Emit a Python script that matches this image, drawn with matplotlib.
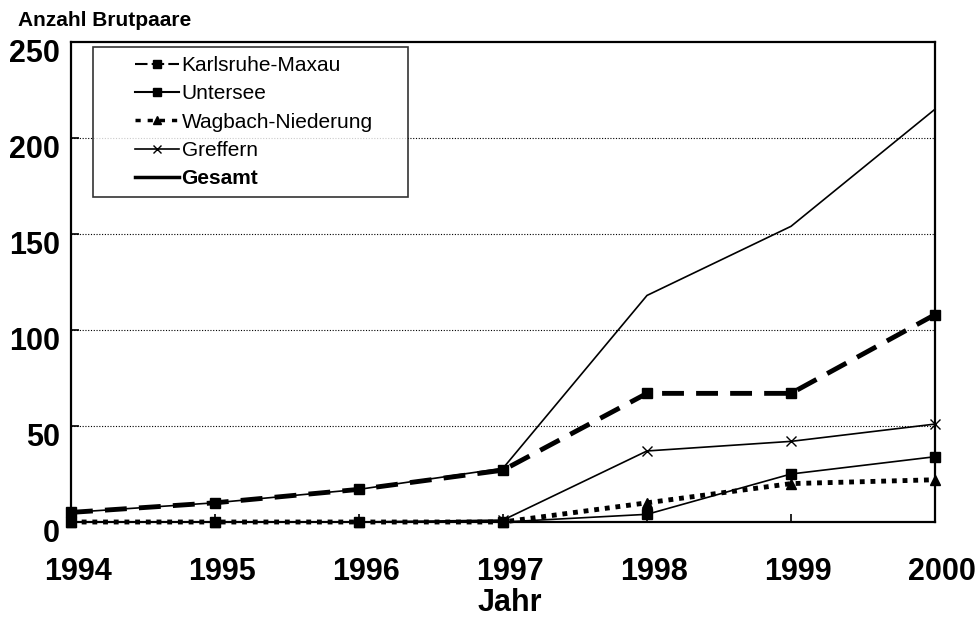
import matplotlib.pyplot as plt
import matplotlib.transforms as mtransforms
from matplotlib.lines import Line2D
from matplotlib.legend_handler import HandlerLine2D

plt.rcParams['font.family'] = ['Liberation Sans', 'DejaVu Sans']

years = [1994, 1995, 1996, 1997, 1998, 1999, 2000]
karlsruhe = [5, 10, 17, 27, 67, 67, 108]
untersee = [0, 0, 0, 0, 4, 25, 34]
wagbach = [0, 0, 0, 0, 10, 20, 22]
greffern = [0, 0, 0, 1, 37, 42, 51]
gesamt = [5, 10, 17, 28, 118, 154, 215]

fig = plt.figure(figsize=(9.8, 6.17), dpi=100)
ax = fig.add_axes([71/980, 1-522/617, (935-71)/980, (522-42)/617])

# data lines
ax.plot(years, gesamt, color='k', lw=1.2, clip_on=False, zorder=3)
ax.plot(years, greffern, color='k', lw=1.2, marker='x', ms=7, mew=1, clip_on=False, zorder=3)
ax.plot(years, untersee, color='k', lw=1.2, marker='s', ms=7, clip_on=False, zorder=3)
ax.plot(years, wagbach, color='k', lw=3.5, ls=(0, (1, 1.2)), marker='^', ms=7, clip_on=False, zorder=3)
ax.plot(years, karlsruhe, color='k', lw=3.5, ls=(0, (4.5, 2.5)), marker='s', ms=7, clip_on=False, zorder=4)

ax.set_xlim(1994, 2000)
ax.set_ylim(0, 250)
ax.set_xticks(years)
ax.set_yticks([0, 50, 100, 150, 200, 250])
ax.tick_params(direction='in', length=6, width=1.2, labelsize=22)
ax.tick_params(axis='x', pad=25)
ax.tick_params(axis='y', pad=8)
for lab in ax.get_xticklabels() + ax.get_yticklabels():
    lab.set_fontweight('bold')
off_y = mtransforms.ScaledTranslation(0, -6/72, fig.dpi_scale_trans)
for lab in ax.get_yticklabels():
    lab.set_transform(lab.get_transform() + off_y)
off_x = mtransforms.ScaledTranslation(5/72, 0, fig.dpi_scale_trans)
for lab in ax.get_xticklabels():
    lab.set_transform(lab.get_transform() + off_x)

for y in [50, 100, 150, 200]:
    ax.axhline(y, color='k', lw=0.8, ls=(0, (1, 1.5)), zorder=1)
for sp in ax.spines.values():
    sp.set_linewidth(1.6)

ax.set_xlabel('Jahr', fontsize=22, fontweight='bold', labelpad=0)
ax.xaxis.set_label_coords(0.508, -0.138)
fig.text(18/980, 1-21/617, 'Anzahl Brutpaare', fontsize=15, fontweight='bold', va='center')

handles = [
    Line2D([], [], color='k', lw=1.5, ls=(0, (6, 2)), marker='s', ms=6),
    Line2D([], [], color='k', lw=1.5, marker='s', ms=6),
    Line2D([], [], color='k', lw=2.5, ls=(0, (1.5, 2)), marker='^', ms=6),
    Line2D([], [], color='k', lw=1.2, marker='x', ms=6),
    Line2D([], [], color='k', lw=2.5),
]
names = ['Karlsruhe-Maxau', 'Untersee', 'Wagbach-Niederung', 'Greffern', 'Gesamt']
leg = ax.legend(handles, names, loc='upper left',
                bbox_to_anchor=(22/864, 1-5/480, (408-93)/864, 0), mode='expand',
                fontsize=15, frameon=True, fancybox=False, edgecolor='k',
                borderpad=0.43, labelspacing=0.45, handlelength=3.7, handletextpad=0.12,
                borderaxespad=0, handler_map={Line2D: HandlerLine2D(xpad=1.58)})
leg.get_frame().set_linewidth(1.2)
leg.get_texts()[-1].set_fontweight('bold')

fig.savefig('out.png', dpi=100)
